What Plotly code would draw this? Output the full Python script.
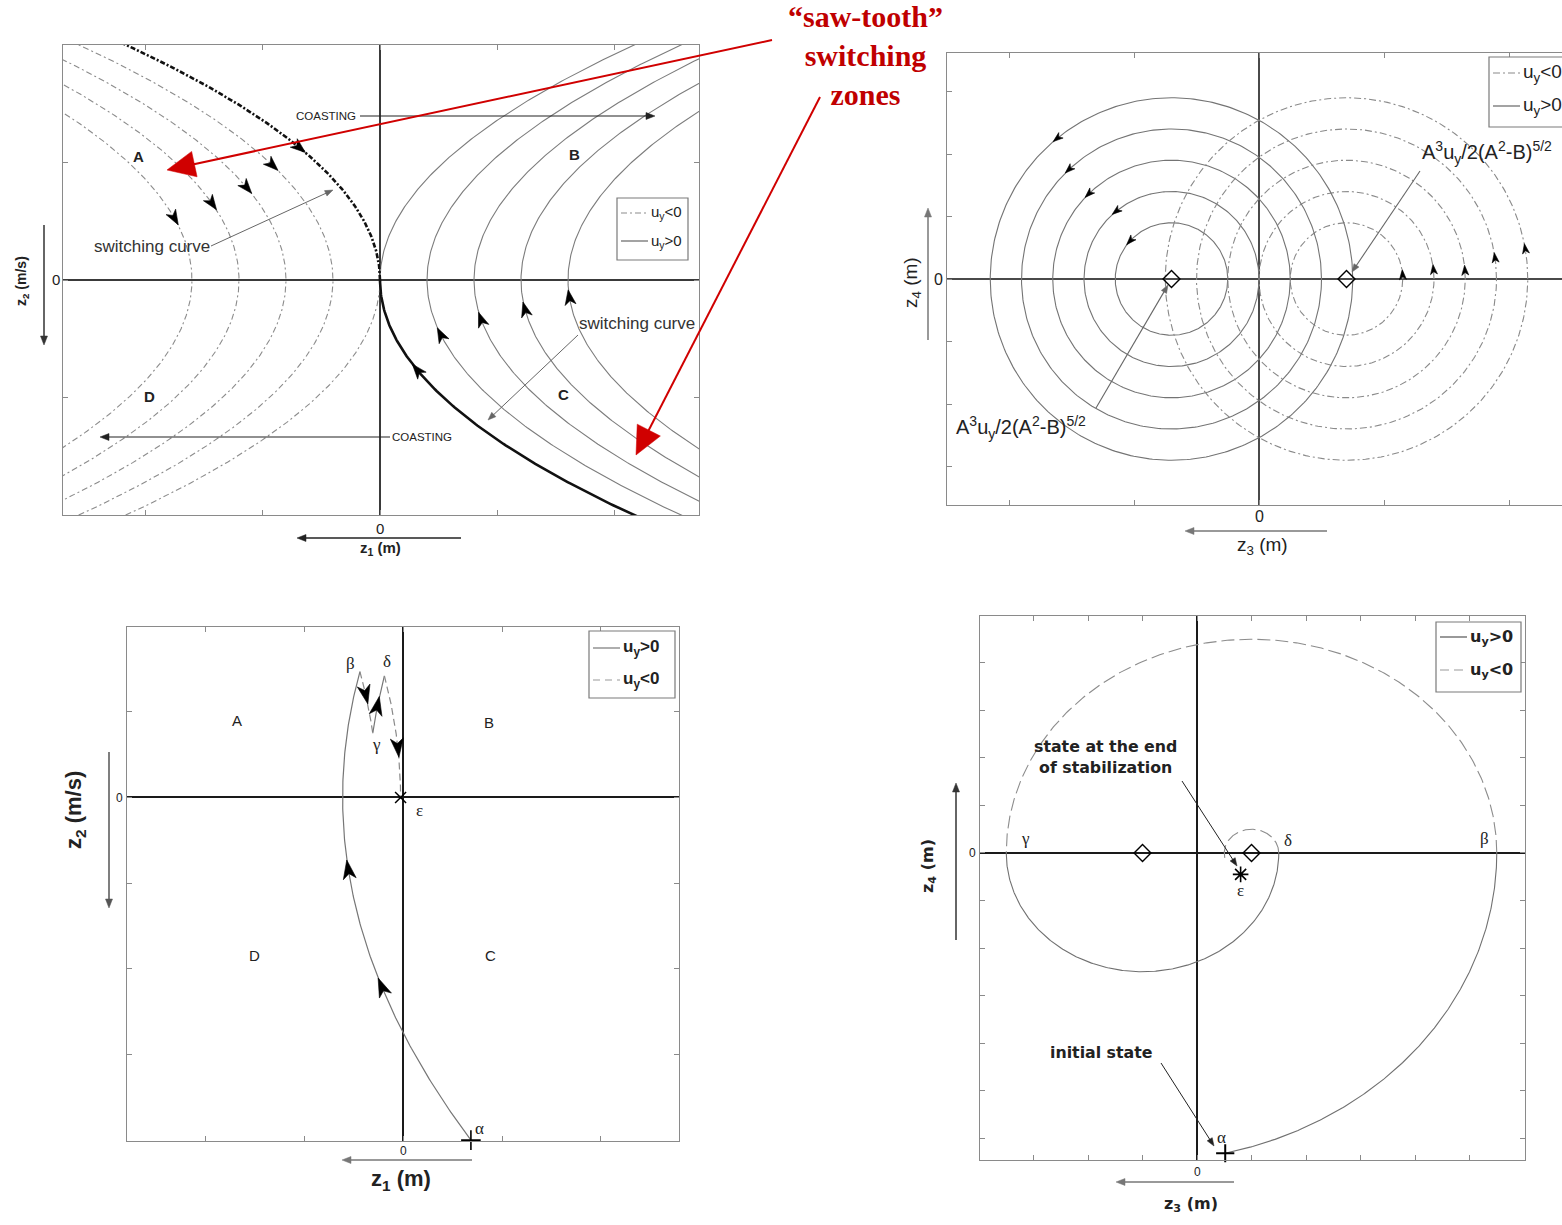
import numpy as np
import plotly.graph_objects as go

W, H = 1562, 1225
SANS = "Liberation Sans, Arial, sans-serif"
SERIF = "Liberation Serif, Times New Roman, serif"
VERD = "DejaVu Sans, Verdana, sans-serif"

# ---------------- data ----------------
# Panel 1: z1 = c + k*z2^2 (u_y > 0) and z1 = c - k*z2^2 (u_y < 0)
P1_K = 0.54
P1_POS_VERTEX = [0.4, 0.8, 1.2, 1.6]
P1_NEG_VERTEX = [-0.4, -0.8, -1.2, -1.6]
P1_POS_ARROW_Z2 = [-0.47, -0.34, -0.255, -0.153]
P1_NEG_ARROW_Z2 = [0.98, 0.79, 0.655, 0.53]
P1_SWITCH_ARROW_Z2 = [-0.77, 1.13]  # u_y>0 branch, u_y<0 branch

# Panel 2: circular trajectories in (z3, z4)
P2_CENTER_POS = -1.4   # u_y > 0
P2_CENTER_NEG = 1.4    # u_y < 0
P2_RADII = [0.9, 1.4, 1.9, 2.4, 2.9]
P2_POS_ARROW_DEG = [137, 129, 134, 133, 129]
P2_NEG_ARROW_DEG = [4, 6, 4, 8, 9.5]

# Panel 3: stabilisation trajectory in (z1, z2)
P3_K = 0.081
P3_Z1_TURN = -0.61
P3_Z2_ALPHA = -4.0
P3_Z2_BETA = 1.47
P3_Z2_GAMMA = 0.75
P3_Z2_DELTA = 1.42
P3_ARROW_SEG = [0, 0, 1, 2, 3]
P3_ARROW_Z2 = [-2.22, -0.85, 1.21, 1.06, 0.59]

# Panel 4: stabilisation trajectory in (z3, z4)
P4_CENTER_POS = -1.0
P4_CENTER_NEG = 1.0
P4_Z3_BETA = 5.5
P4_Z3_GAMMA = -3.5
P4_Z3_DELTA = 1.5
P4_ALPHA_DEG = -76.5
P4_LAST_ARC_END_DEG = 195
P4_EPSILON = (0.8, -0.45)

# ---------------- layout geometry (pixels: left, top, right, bottom) ----------------
FRAMES = {
    1: (63, 45, 699, 515),
    2: (947, 53, 1562, 505),
    3: (127, 627, 679, 1141),
    4: (980, 616, 1525, 1160),
}
RANGES = {
    1: ([-2.698, 2.715], [-2.0, 2.0]),
    2: ([-4.992, 4.848], [-3.616, 3.616]),
    3: ([-2.788, 2.788], [-4.01, 1.99]),
    4: ([-3.982, 6.018], [-6.463, 4.989]),
}
STEPS = {1: (1, 1), 2: (2, 1), 3: (1, 1), 4: (1, 1)}
ZERO_STYLE = {1: ("#3a3a3a", 1.6), 2: ("#4a4a4a", 1.6), 3: ("#1a1a1a", 2.0), 4: ("#1a1a1a", 1.6)}
FRAME_COLOR = "#8a8a8a"


def P(x, y):
    return x / W, 1 - y / H


def px_scale(n):
    l, t, r, b = FRAMES[n]
    xr, yr = RANGES[n]
    return (r - l) / (xr[1] - xr[0]), (b - t) / (yr[1] - yr[0])


fig = go.Figure()


def ax_names(n):
    return ("x", "y") if n == 1 else (f"x{n}", f"y{n}")


def add_line(n, x, y, color, width, dash="solid"):
    xa, ya = ax_names(n)
    fig.add_trace(go.Scatter(x=x, y=y, mode="lines", xaxis=xa, yaxis=ya,
                             line=dict(color=color, width=width, dash=dash),
                             hoverinfo="skip", showlegend=False))


def add_heads(n, pts, dirs, length, width, color="#000"):
    """Notched arrowheads centred on pts, pointing along dirs (plot units)."""
    sx, sy = px_scale(n)
    xs, ys = [], []
    outline = [(0.55, 0), (-0.45, 0.5), (-0.18, 0), (-0.45, -0.5), (0.55, 0)]
    for (x, y), (dx, dy) in zip(pts, dirs):
        ux, uy = dx * sx, dy * sy
        m = np.hypot(ux, uy)
        ux, uy = ux / m, uy / m
        vx, vy = -uy, ux
        for a, b in outline:
            a, b = a * length, b * width
            xs.append(x + (a * ux + b * vx) / sx)
            ys.append(y + (a * uy + b * vy) / sy)
        xs.append(None)
        ys.append(None)
    xa, ya = ax_names(n)
    fig.add_trace(go.Scatter(x=xs, y=ys, mode="lines", fill="toself", fillcolor=color,
                             line=dict(color=color, width=0.6), xaxis=xa, yaxis=ya,
                             hoverinfo="skip", showlegend=False))


def add_marker(n, x, y, symbol, size, width=1.5, color="#000"):
    xa, ya = ax_names(n)
    fig.add_trace(go.Scatter(x=[x], y=[y], mode="markers", xaxis=xa, yaxis=ya, cliponaxis=False,
                             marker=dict(symbol=symbol, size=size, color=color,
                                         line=dict(color=color, width=width)),
                             hoverinfo="skip", showlegend=False))


# ---------------- panel 1 ----------------
SOLID1, DASHDOT1 = "#7c7c7c", "#8c8c8c"
DD = "6px,3px,2px,3px"
zz = np.linspace(-2.1, 2.1, 300)
for c in P1_POS_VERTEX:
    add_line(1, c + P1_K * zz ** 2, zz, SOLID1, 1.1)
for c in P1_NEG_VERTEX:
    add_line(1, c - P1_K * zz ** 2, zz, DASHDOT1, 1.1, DD)
up = np.linspace(0, 2.1, 150)
dn = np.linspace(-2.1, 0, 150)
add_line(1, P1_K * up ** 2, up, SOLID1, 1.1)
add_line(1, -P1_K * dn ** 2, dn, DASHDOT1, 1.1, DD)
add_line(1, P1_K * dn ** 2, dn, "#111", 2.6)
add_line(1, -P1_K * up ** 2, up, "#111", 2.6, "5px,2px,2px,2px")

pts, dirs = [], []
for c, y in zip(P1_POS_VERTEX + [0.0], P1_POS_ARROW_Z2 + [P1_SWITCH_ARROW_Z2[0]]):
    pts.append((c + P1_K * y ** 2, y))
    dirs.append((2 * P1_K * y, 1.0))
for c, y in zip(P1_NEG_VERTEX + [0.0], P1_NEG_ARROW_Z2 + [P1_SWITCH_ARROW_Z2[1]]):
    pts.append((c - P1_K * y ** 2, y))
    dirs.append((2 * P1_K * y, -1.0))
add_heads(1, pts, dirs, 15, 11)

# ---------------- panel 2 ----------------
th = np.linspace(0, 2 * np.pi, 361)
for r in P2_RADII:
    add_line(2, P2_CENTER_POS + r * np.cos(th), r * np.sin(th), "#747474", 1.1)
    add_line(2, P2_CENTER_NEG + r * np.cos(th), r * np.sin(th), "#8a8a8a", 1.1, "7px,3px,2px,3px")
pts, dirs = [], []
for r, a in zip(P2_RADII, P2_POS_ARROW_DEG):
    t = np.radians(a)
    pts.append((P2_CENTER_POS + r * np.cos(t), r * np.sin(t)))
    dirs.append((-np.sin(t), np.cos(t)))
for r, a in zip(P2_RADII, P2_NEG_ARROW_DEG):
    t = np.radians(a)
    pts.append((P2_CENTER_NEG + r * np.cos(t), r * np.sin(t)))
    dirs.append((-np.sin(t), np.cos(t)))
add_heads(2, pts, dirs, 10, 7)
add_marker(2, P2_CENTER_POS, 0, "diamond-open", 13, 1.4)
add_marker(2, P2_CENTER_NEG, 0, "diamond-open", 13, 1.4)

# ---------------- panel 3 ----------------
k = P3_K
x_beta = P3_Z1_TURN + k * P3_Z2_BETA ** 2
c1 = x_beta + k * P3_Z2_BETA ** 2
x_gamma = c1 - k * P3_Z2_GAMMA ** 2
c2 = x_gamma - k * P3_Z2_GAMMA ** 2
x_delta = c2 + k * P3_Z2_DELTA ** 2
c3 = x_delta + k * P3_Z2_DELTA ** 2
segs3 = [(P3_Z1_TURN, 1, P3_Z2_ALPHA, P3_Z2_BETA),
         (c1, -1, P3_Z2_BETA, P3_Z2_GAMMA),
         (c2, 1, P3_Z2_GAMMA, P3_Z2_DELTA),
         (c3, -1, P3_Z2_DELTA, 0.0)]
for c, s, y0, y1 in segs3:
    y = np.linspace(y0, y1, 200)
    if s > 0:
        add_line(3, c + k * y ** 2, y, "#767676", 1.2)
    else:
        add_line(3, c - k * y ** 2, y, "#8a8a8a", 1.2, "7px,4px")
pts, dirs = [], []
for i, y in zip(P3_ARROW_SEG, P3_ARROW_Z2):
    c, s, y0, y1 = segs3[i]
    dy = np.sign(y1 - y0)
    pts.append((c + s * k * y ** 2, y))
    dirs.append((2 * s * k * y * dy, dy))
add_heads(3, pts, dirs, 19, 13)
add_marker(3, P3_Z1_TURN + k * P3_Z2_ALPHA ** 2, P3_Z2_ALPHA, "cross-thin", 14, 1.6)
add_marker(3, c3, 0.0, "x-thin", 11, 1.5)

# ---------------- panel 4 ----------------
r1 = P4_Z3_BETA - P4_CENTER_POS
r2 = P4_Z3_BETA - P4_CENTER_NEG
r3 = P4_CENTER_POS - P4_Z3_GAMMA
r4 = P4_Z3_DELTA - P4_CENTER_NEG
arcs4 = [(P4_CENTER_POS, r1, P4_ALPHA_DEG, 0, True),
         (P4_CENTER_NEG, r2, 0, 180, False),
         (P4_CENTER_POS, r3, 180, 360, True),
         (P4_CENTER_NEG, r4, 0, P4_LAST_ARC_END_DEG, False)]
for c, r, a0, a1, pos in arcs4:
    t = np.radians(np.linspace(a0, a1, 300))
    if pos:
        add_line(4, c + r * np.cos(t), r * np.sin(t), "#707070", 1.1)
    else:
        add_line(4, c + r * np.cos(t), r * np.sin(t), "#8c8c8c", 1.1, "13px,5px")
ta = np.radians(P4_ALPHA_DEG)
add_marker(4, P4_CENTER_POS + r1 * np.cos(ta), r1 * np.sin(ta), "cross-thin", 13, 2)
add_marker(4, P4_EPSILON[0], P4_EPSILON[1], "asterisk", 13, 1.6)
add_marker(4, P4_CENTER_POS, 0, "diamond-open", 13, 1.4)
add_marker(4, P4_CENTER_NEG, 0, "diamond-open", 13, 1.4)

# ---------------- axes (unlabelled inward ticks, boxed frame, zero lines) ----------------
layout_axes = {}
for n in FRAMES:
    l, t, r, b = FRAMES[n]
    xr, yr = RANGES[n]
    sxs, sys_ = STEPS[n]
    zc, zw = ZERO_STYLE[n]
    common = dict(showgrid=False, zeroline=True, zerolinecolor=zc, zerolinewidth=zw,
                  showline=True, linecolor=FRAME_COLOR, linewidth=1.2,
                  ticks="inside", ticklen=5, tickwidth=1, tickcolor=FRAME_COLOR,
                  tickmode="linear", tick0=0, showticklabels=False, fixedrange=True)
    xa, ya = ax_names(n)
    xkey = "xaxis" if n == 1 else f"xaxis{n}"
    ykey = "yaxis" if n == 1 else f"yaxis{n}"
    layout_axes[xkey] = dict(common, domain=[l / W, r / W], range=xr, anchor=ya,
                             mirror="ticks", dtick=sxs)
    layout_axes[ykey] = dict(common, domain=[1 - b / H, 1 - t / H], range=yr, anchor=xa,
                             mirror=(False if n == 2 else "ticks"), dtick=sys_)

# ---------------- annotations / shapes ----------------
ann, shapes = [], []


def text(x, y, s, size, color="#222", family=SANS, anchor="center", angle=0):
    X, Y = P(x, y)
    ann.append(dict(x=X, y=Y, xref="paper", yref="paper", text=s, showarrow=False,
                    xanchor=anchor, yanchor="middle", textangle=angle,
                    font=dict(size=size, color=color, family=family)))


def seg(x0, y0, x1, y1, color, width, dash="solid"):
    X0, Y0 = P(x0, y0)
    X1, Y1 = P(x1, y1)
    shapes.append(dict(type="line", xref="paper", yref="paper", x0=X0, y0=Y0, x1=X1, y1=Y1,
                       line=dict(color=color, width=width, dash=dash)))


def arrow(x0, y0, x1, y1, color="#333", width=1.0, hl=9, hw=3.5):
    """Straight pointer from pixel (x0, y0) with a filled head at pixel (x1, y1)."""
    d = np.array([x1 - x0, y1 - y0], float)
    d /= np.hypot(*d)
    nrm = np.array([-d[1], d[0]])
    tip = np.array([x1, y1], float)
    base = tip - d * hl
    seg(x0, y0, *(tip - d * hl * 0.6), color, width)
    corners = [tip, base + nrm * hw, base - nrm * hw]
    path = "M " + " L ".join("%.6f,%.6f" % P(*c) for c in corners) + " Z"
    shapes.append(dict(type="path", xref="paper", yref="paper", path=path,
                       fillcolor=color, line=dict(color=color, width=0.5)))


def legend(box, rows, size, family, bold=False):
    l, t, r, b = box
    X0, Y0 = P(l, b)
    X1, Y1 = P(r, t)
    shapes.append(dict(type="rect", xref="paper", yref="paper", x0=X0, y0=Y0, x1=X1, y1=Y1,
                       line=dict(color="#7a7a7a", width=1.2), fillcolor="white", layer="above"))
    for y, dash, color, label in rows:
        seg(l + 4, y, l + 31, y, color, 1.2, dash)
        text(l + 32, y, f"<b>{label}</b>" if bold else label, size, "#222", family, "left")


NEG = "u<sub>y</sub>&lt;0"
POS = "u<sub>y</sub>&gt;0"

# zero tick labels
text(380, 528, "0", 15)
text(56, 280, "0", 15)
text(1259, 517, "0", 16)
text(938, 279, "0", 16)
text(403, 1151, "0", 12)
text(120, 798, "0", 12)
text(1197, 1172, "0", 12)
text(972, 853, "0", 12)

# panel 1 text
text(138, 157, "<b>A</b>", 15)
text(574, 155, "<b>B</b>", 15)
text(563, 394, "<b>C</b>", 15)
text(149, 396, "<b>D</b>", 15)
text(326, 116, "COASTING", 11.5)
arrow(360, 116, 655, 116, "#222", 1.2, 9, 3.5)
text(422, 437, "COASTING", 11.5)
arrow(390, 437, 100, 437, "#222", 1.2, 9, 3.5)
text(152, 247, "switching curve", 17, "#333")
arrow(211, 246, 333, 190, "#666", 1.0, 8, 3)
text(637, 323, "switching curve", 17, "#333")
arrow(578, 335, 488, 420, "#666", 1.0, 8, 3)
legend((617, 198, 688, 260), [(213, DD, "#8c8c8c", NEG), (241, "solid", "#666", POS)], 15, SANS)
arrow(461, 538, 297, 538, "#222", 1.5, 9, 3.5)
text(380, 548, "<b>z<sub>1</sub> (m)</b>", 15)
arrow(44, 225, 44, 345, "#333", 1.5, 9, 3.5)
text(22, 281, "<b>z<sub>2</sub> (m/s)</b>", 14, angle=-90)

# red callouts
text(865, 56, "<b>“saw-tooth”<br>switching<br>zones</b>", 30, "#c00000", SERIF)
arrow(772, 40, 167, 170, "#d00000", 2, 28, 13)
arrow(820, 97, 636, 455, "#d00000", 2, 28, 13)

# panel 2 text
A_EXPR = "A<sup>3</sup>u<sub>y</sub>/2(A<sup>2</sup>-B)<sup>5/2</sup>"
text(1420, 152, A_EXPR, 20, anchor="left")
arrow(1420, 171, 1352, 272, "#666", 1.1, 8, 3)
text(954, 428, A_EXPR, 20, anchor="left")
arrow(1096, 408, 1168, 285, "#666", 1.1, 8, 3)
legend((1489, 57, 1600, 127), [(73, "7px,3px,2px,3px", "#8a8a8a", NEG), (106, "solid", "#666", POS)],
       19, SANS)
arrow(1327, 531, 1185, 531, "#777", 1.5, 9, 3.5)
text(1262, 546, "z<sub>3</sub> (m)", 19)
arrow(928, 340, 928, 208, "#777", 1.5, 9, 3.5)
text(912, 283, "z<sub>4</sub> (m)", 19, angle=-90)

# panel 3 text
text(237, 721, "A", 15)
text(489, 722, "B", 15)
text(254, 955, "D", 15)
text(490, 955, "C", 15)
text(350, 663, "β", 17, family=SERIF)
text(387, 661, "δ", 17, family=SERIF)
text(376, 744, "γ", 17, family=SERIF)
text(419, 810, "ε", 17, family=SERIF)
text(480, 1128, "α", 17, family=SERIF)
legend((589, 631, 675, 698), [(648, "solid", "#777", POS), (680, "7px,5px", "#999", NEG)],
       17, SANS, bold=True)
arrow(472, 1160, 342, 1160, "#777", 1.5, 9, 3.5)
text(401, 1180, "<b>z<sub>1</sub> (m)</b>", 22)
arrow(109, 752, 109, 908, "#555", 1.5, 9, 3.5)
text(75, 810, "<b>z<sub>2</sub> (m/s)</b>", 22, angle=-90)

# panel 4 text
text(1025, 838, "γ", 17, family=SERIF)
text(1484, 838, "β", 17, family=SERIF)
text(1288, 840, "δ", 17, family=SERIF)
text(1240, 890, "ε", 17, family=SERIF)
text(1221, 1137, "α", 17, family=SERIF)
text(1105, 757, "<b>state at the end<br>of stabilization</b>", 15.8, family=VERD)
arrow(1182, 781, 1237, 866, "#222", 1.0, 8, 3)
text(1101, 1052, "<b>initial state</b>", 15.8, family=VERD)
arrow(1161, 1063, 1214, 1146, "#222", 1.0, 8, 3)
legend((1436, 622, 1521, 692), [(637, "solid", "#555", POS), (670, "9px,5px", "#999", NEG)],
       16, VERD, bold=True)
arrow(1234, 1182, 1116, 1182, "#777", 1.5, 9, 3.5)
text(1191, 1204, "<b>z<sub>3</sub> (m)</b>", 16, family=VERD)
arrow(956, 940, 956, 783, "#333", 1.5, 9, 3.5)
text(928, 866, "<b>z<sub>4</sub> (m)</b>", 16, family=VERD, angle=-90)

fig.update_layout(
    width=W, height=H, margin=dict(l=0, r=0, t=0, b=0, pad=0),
    paper_bgcolor="white", plot_bgcolor="white", showlegend=False,
    hovermode=False, annotations=ann, shapes=shapes, **layout_axes,
)

fig.write_html("out.html", config={"displayModeBar": False})
